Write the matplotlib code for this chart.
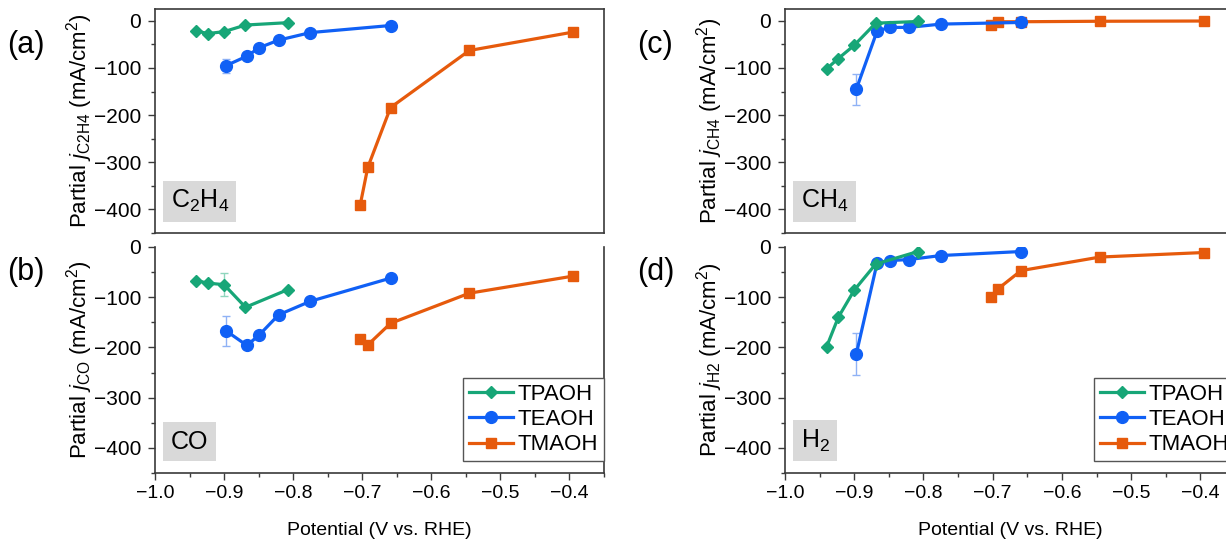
import matplotlib
matplotlib.use("Agg")
import matplotlib.pyplot as plt
from matplotlib.ticker import MultipleLocator

plt.rcParams['font.family'] = ['Liberation Sans', 'DejaVu Sans']
plt.rcParams['mathtext.fontset'] = 'custom'
plt.rcParams['mathtext.rm'] = 'Liberation Sans'
plt.rcParams['mathtext.it'] = 'Liberation Sans:italic'
plt.rcParams['mathtext.bf'] = 'Liberation Sans:bold'

# ---------------- data ----------------
series_names = ["TPAOH", "TEAOH", "TMAOH"]
x_tpaoh = [-0.940, -0.923, -0.900, -0.869, -0.808]
x_teaoh = [-0.897, -0.867, -0.849, -0.821, -0.775, -0.659]
x_tmaoh = [-0.703, -0.692, -0.659, -0.545, -0.395]

# C2H4
c2h4_tpaoh = [-22, -27, -23, -9, -4]
c2h4_teaoh = [-95, -75, -57, -41, -25, -10]
c2h4_tmaoh = [-391, -311, -184, -63, -24]
c2h4_tpaoh_err = [0, 0, 0, 0, 0]
c2h4_teaoh_err = [15, 0, 0, 0, 0, 0]
c2h4_tmaoh_err = [8, 0, 0, 0, 0]

# CO
co_tpaoh = [-67, -72, -75, -120, -85]
co_teaoh = [-167, -196, -175, -135, -108, -62]
co_tmaoh = [-184, -195, -152, -92, -58]
co_tpaoh_err = [0, 0, 23, 0, 0]
co_teaoh_err = [30, 0, 0, 0, 6, 0]
co_tmaoh_err = [0, 8, 0, 0, 0]

# CH4
ch4_tpaoh = [-102, -80, -52, -5, -1.5]
ch4_teaoh = [-145, -22, -14, -14, -7, -3.5]
ch4_tmaoh = [-8, -2, -2, -1, -0.5]
ch4_tpaoh_err = [0, 0, 0, 0, 0]
ch4_teaoh_err = [33, 0, 0, 0, 0, 0]
ch4_tmaoh_err = [0, 0, 0, 0, 0]

# H2
h2_tpaoh = [-199, -140, -86, -34, -9]
h2_teaoh = [-213, -32, -27, -25, -17, -9]
h2_tmaoh = [-99, -83, -47, -20, -11]
h2_tpaoh_err = [0, 0, 0, 0, 0]
h2_teaoh_err = [42, 0, 0, 0, 0, 0]
h2_tmaoh_err = [0, 0, 0, 0, 0]

x_ticks = [-1.0, -0.9, -0.8, -0.7, -0.6, -0.5, -0.4]
x_ticklabels = ["\u22121.0", "\u22120.9", "\u22120.8", "\u22120.7", "\u22120.6", "\u22120.5", "\u22120.4"]
y_ticks = [0, -100, -200, -300, -400]
y_ticklabels = ["0", "\u2212100", "\u2212200", "\u2212300", "\u2212400"]

colors = {"TPAOH": "#17a677", "TEAOH": "#1060f5", "TMAOH": "#e65a0c"}
err_colors = {"TPAOH": "#8fd6bd", "TEAOH": "#8fb2f5", "TMAOH": "#f0a77f"}
markers = {"TPAOH": ("D", 6.6), "TEAOH": ("o", 8.5), "TMAOH": ("s", 7)}

W, H = 1226, 540
fig = plt.figure(figsize=(W / 100, H / 100), dpi=100)


def axpos(l, t, r, b):
    return [l / W, (H - b) / H, (r - l) / W, (b - t) / H]


panels = [
    dict(pos=axpos(155, 9, 604, 233), top=25, lab="(a)", sub="C2H4", box=r"C$_2$H$_4$",
         data=(c2h4_tpaoh, c2h4_teaoh, c2h4_tmaoh), err=(c2h4_tpaoh_err, c2h4_teaoh_err, c2h4_tmaoh_err),
         bottom=False, legend=False, lx=7, ly=45, by=0.083),
    dict(pos=axpos(155, 247, 604, 473), top=0, lab="(b)", sub="CO", box="CO",
         data=(co_tpaoh, co_teaoh, co_tmaoh), err=(co_tpaoh_err, co_teaoh_err, co_tmaoh_err),
         bottom=True, legend=True, lx=7, ly=272, by=0.086),
    dict(pos=axpos(785, 9, 1235, 233), top=25, lab="(c)", sub="CH4", box=r"CH$_4$",
         data=(ch4_tpaoh, ch4_teaoh, ch4_tmaoh), err=(ch4_tpaoh_err, ch4_teaoh_err, ch4_tmaoh_err),
         bottom=False, legend=False, lx=637, ly=45, by=0.083),
    dict(pos=axpos(785, 247, 1235, 473), top=0, lab="(d)", sub="H2", box=r"H$_2$",
         data=(h2_tpaoh, h2_teaoh, h2_tmaoh), err=(h2_tpaoh_err, h2_teaoh_err, h2_tmaoh_err),
         bottom=True, legend=True, lx=637, ly=272, by=0.086),
]

xs = (x_tpaoh, x_teaoh, x_tmaoh)
spine_col = "#3a3a3a"

for p in panels:
    ax = fig.add_axes(p["pos"])
    handles = {}
    for i in [2, 1, 0]:
        name = series_names[i]
        m, ms = markers[name]
        ax.errorbar(xs[i], p["data"][i], yerr=p["err"][i], fmt="none",
                    ecolor=err_colors[name], elinewidth=1.0, capsize=3, capthick=1.0, zorder=2)
        h, = ax.plot(xs[i], p["data"][i], color=colors[name], marker=m, markersize=ms,
                     lw=2.3, label=name, zorder=3)
        handles[name] = h
    ax.set_xlim(-1.0, -0.35)
    ax.set_ylim(-450, p["top"])
    ax.set_yticks(y_ticks)
    ax.set_yticklabels(y_ticklabels)
    ax.yaxis.set_minor_locator(MultipleLocator(50))
    ax.tick_params(axis="y", which="major", direction="out", length=5, width=1, colors=spine_col,
                   labelsize=15, labelcolor="black", pad=5, right=False)
    ax.tick_params(axis="y", which="minor", direction="out", length=3, width=1, colors=spine_col, right=False)
    for s in ax.spines.values():
        s.set_color(spine_col)
        s.set_linewidth(1.2)
    if p["bottom"]:
        ax.spines["top"].set_visible(False)
        ax.set_xticks(x_ticks)
        ax.set_xticklabels(x_ticklabels)
        ax.xaxis.set_minor_locator(MultipleLocator(0.05))
        ax.tick_params(axis="x", which="major", direction="out", length=5, width=1, colors=spine_col,
                       labelsize=14, labelcolor="black", pad=4, top=False)
        ax.tick_params(axis="x", which="minor", direction="out", length=3, width=1, colors=spine_col, top=False)
        ax.set_xlabel("Potential (V vs. RHE)", fontsize=14, labelpad=14)
    else:
        ax.set_xticks([])
        ax.tick_params(axis="x", which="both", bottom=False, top=False, labelbottom=False)
    ax.set_ylabel(r"Partial $j_{\mathrm{" + p["sub"] + r"}}$ (mA/cm$^2$)", fontsize=16, labelpad=-1)
    ax.text(0.035, p["by"], p["box"], transform=ax.transAxes, fontsize=18, ha="left", va="bottom",
            bbox=dict(boxstyle="square,pad=0.3", fc="#d9d9d9", ec="none"))
    fig.text(p["lx"] / W, 1 - p["ly"] / H, p["lab"], fontsize=22, ha="left", va="center")
    if p["legend"]:
        leg = ax.legend([handles[n] for n in series_names], series_names, loc="lower right",
                        bbox_to_anchor=(1.0, 12 / 226), borderaxespad=0, fontsize=16,
                        frameon=True, fancybox=False, edgecolor="#555555", framealpha=1,
                        handlelength=2.0, handletextpad=0.22, labelspacing=0.2, borderpad=0.25)
        leg.get_frame().set_linewidth(1.0)

fig.savefig("out.png", dpi=100)
